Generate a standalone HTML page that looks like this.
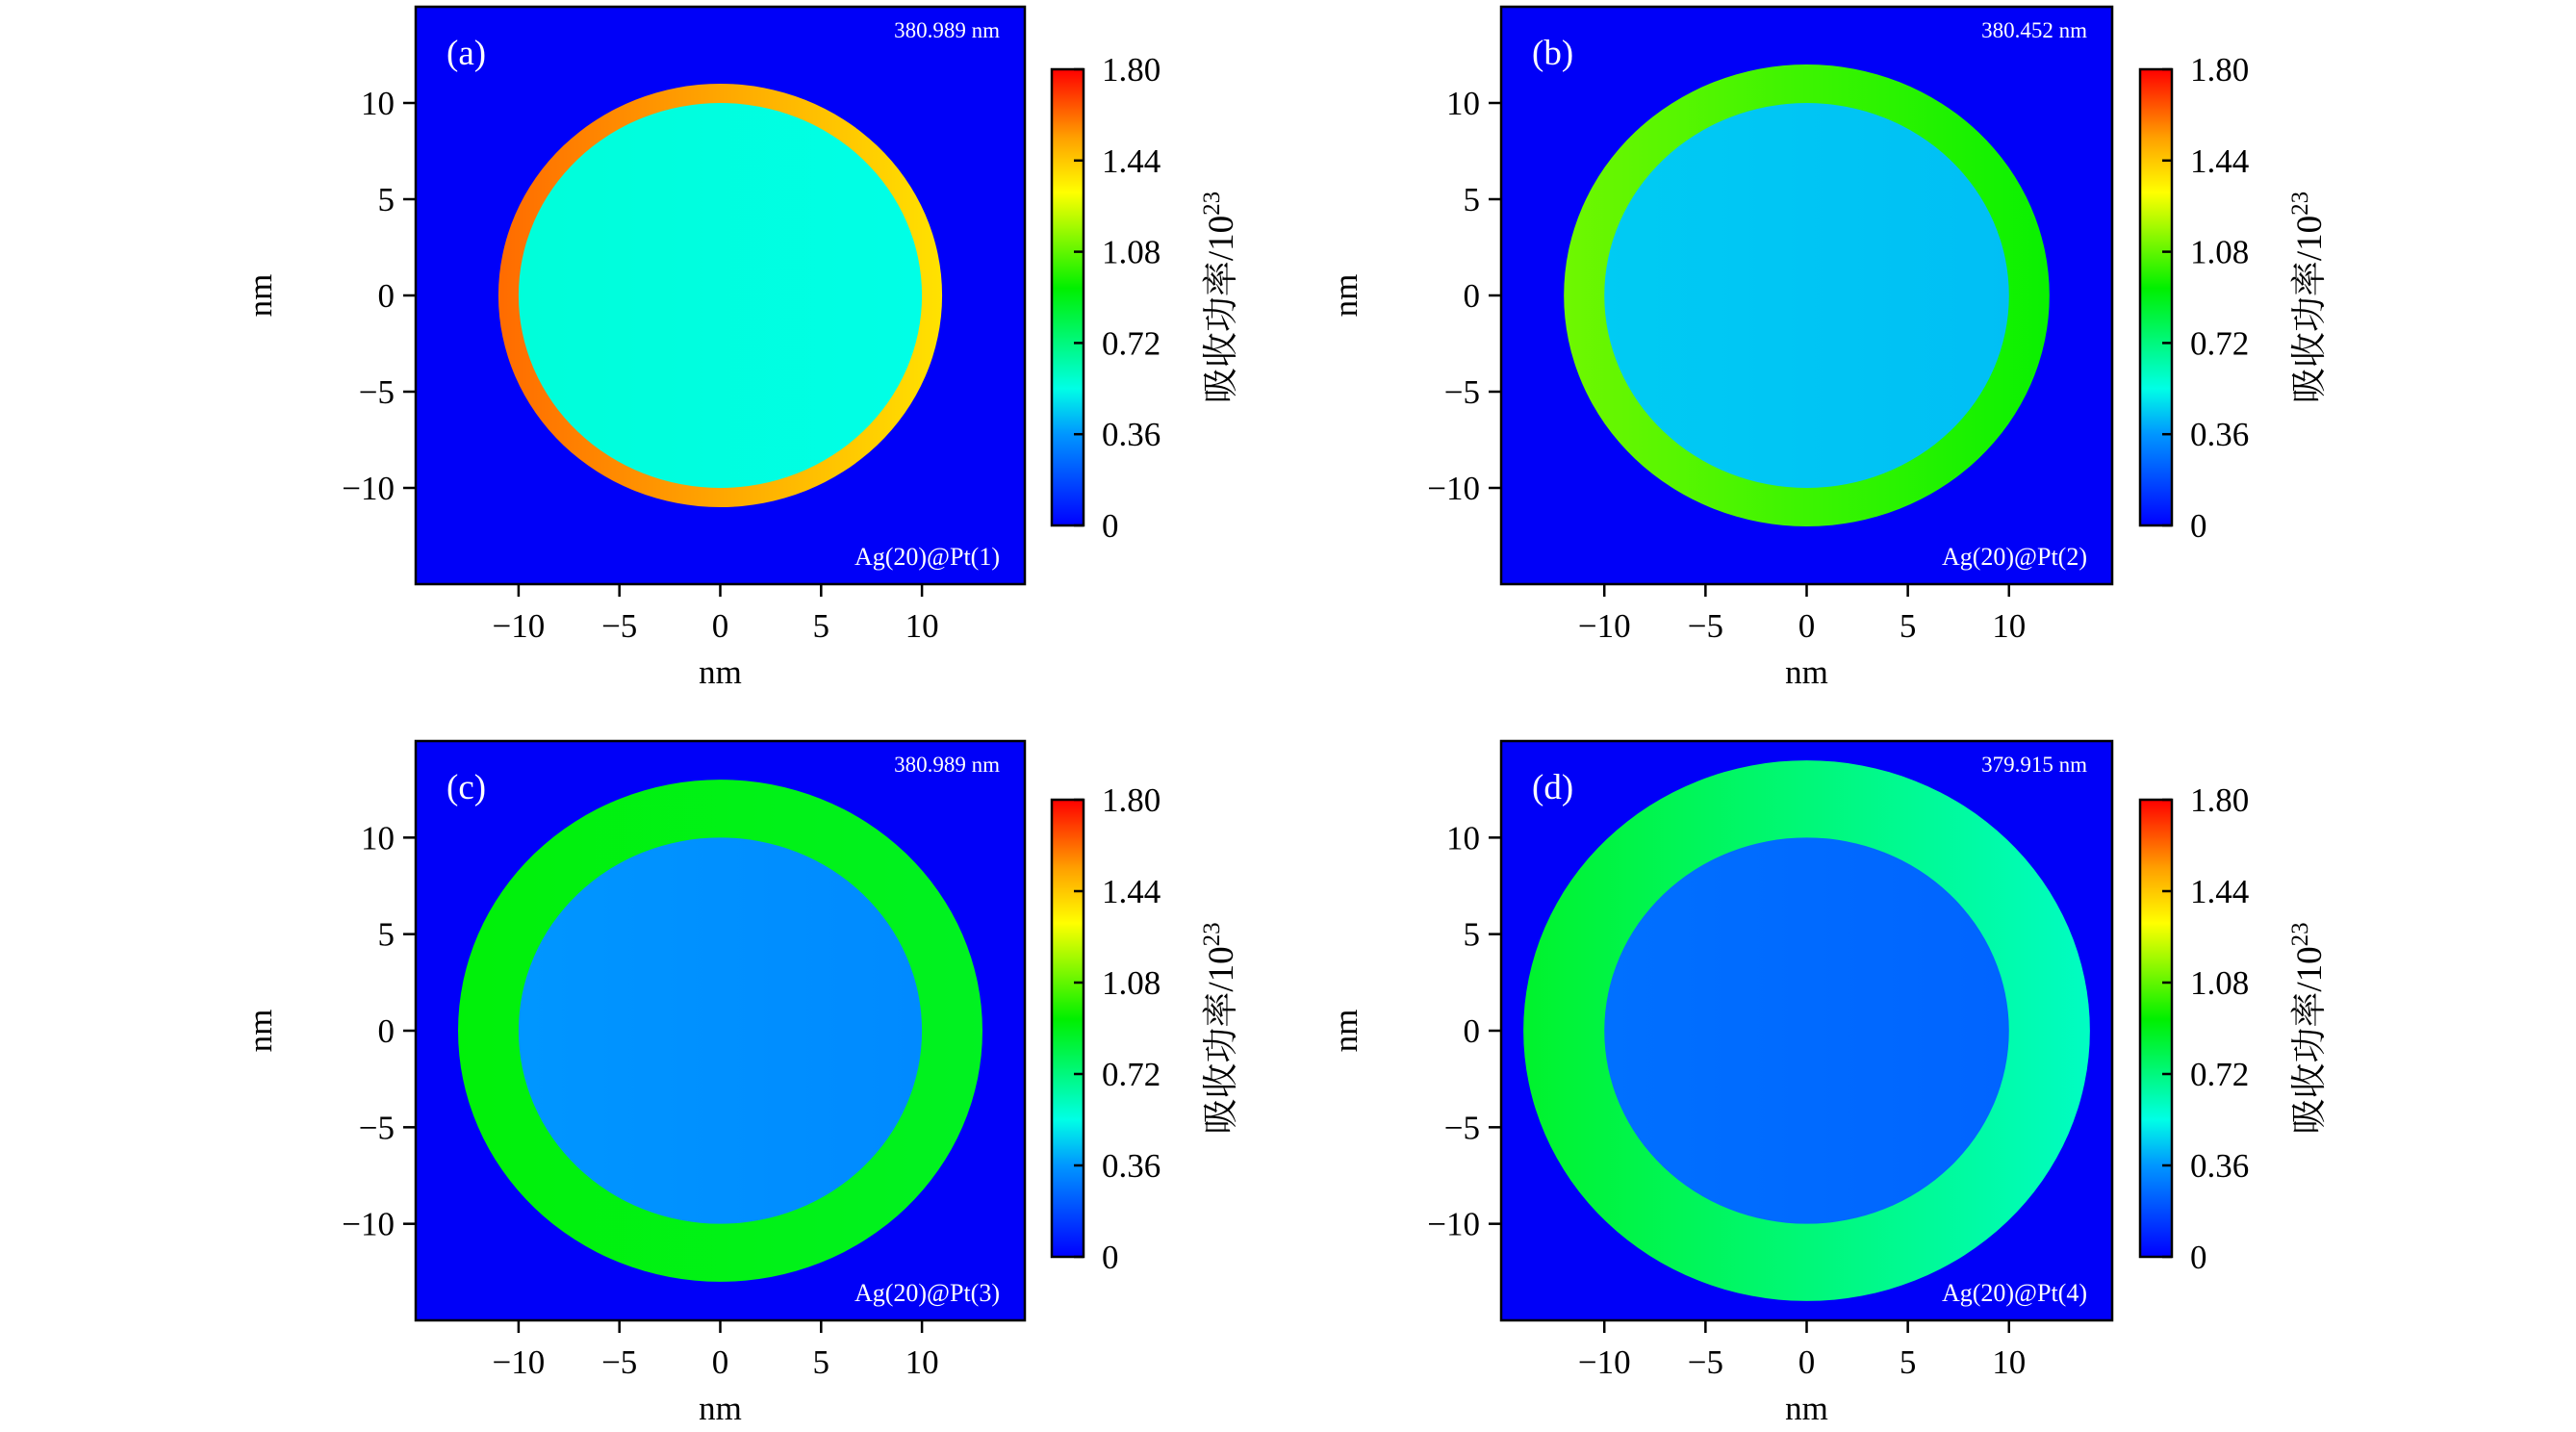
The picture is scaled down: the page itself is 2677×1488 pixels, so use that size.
<!DOCTYPE html>
<html><head><meta charset="utf-8">
<style>
html,body{margin:0;padding:0;background:#fff;}
svg{display:block;}
text{font-family:"Liberation Serif","Noto Serif CJK SC",serif;fill:#000;}
</style></head>
<body>
<svg id="fig" width="2677" height="1488" viewBox="0 0 2677 1488" xmlns="http://www.w3.org/2000/svg"></svg>
<script>
// ---- data ----
const panelLetters = ['(a)','(b)','(c)','(d)'];
const wavelengths = ['380.989 nm','380.452 nm','380.989 nm','379.915 nm'];
const structures = ['Ag(20)@Pt(1)','Ag(20)@Pt(2)','Ag(20)@Pt(3)','Ag(20)@Pt(4)'];
const outerRadii = [11, 12, 13, 14];
const innerRadii = [10, 10, 10, 10];
const shellLeft = [1.62, 1.1, 0.92, 0.86];
const shellRight = [1.38, 0.95, 0.88, 0.6];
const coreLeft = [0.56, 0.45, 0.36, 0.27];
const coreRight = [0.54, 0.43, 0.33, 0.24];
const axisTicks = [-10, -5, 0, 5, 10];
const cbarTicks = [0, 0.36, 0.72, 1.08, 1.44, 1.80];
const cbarLabels = ['0','0.36','0.72','1.08','1.44','1.80'];
const vmax = 1.8;

// ---- layout ----
const NS = 'http://www.w3.org/2000/svg';
const svg = document.getElementById('fig');
const layouts = [
  {L:432, R:1065, T:7, B:607, cbL:1093, cbR:1126, cbT:72, cbB:546},
  {L:1560, R:2195, T:7, B:607, cbL:2224, cbR:2257, cbT:72, cbB:546},
  {L:432, R:1065, T:770, B:1372, cbL:1093, cbR:1126, cbT:831, cbB:1306},
  {L:1560, R:2195, T:770, B:1372, cbL:2224, cbR:2257, cbT:831, cbB:1306}
];
const XMIN=-15.1, XMAX=15.1, YMIN=-15.0, YMAX=15.0;

const cmapStops = [[0,[0,0,255]],[0.2,[0,150,255]],[0.3,[0,255,230]],[0.52,[0,240,0]],[0.73,[255,255,0]],[0.85,[255,160,0]],[1,[255,0,0]]];
function cmap(v){
  let x = Math.max(0, Math.min(1, v / vmax));
  for (let i=1;i<cmapStops.length;i++){
    if (x <= cmapStops[i][0]){
      const [x0,c0]=cmapStops[i-1],[x1,c1]=cmapStops[i];
      const t=(x-x0)/(x1-x0);
      const c=c0.map((a,k)=>Math.round(a+(c1[k]-a)*t));
      return `rgb(${c[0]},${c[1]},${c[2]})`;
    }
  }
  return 'rgb(255,0,0)';
}
function el(tag, attrs, parent){
  const e=document.createElementNS(NS,tag);
  for(const k in attrs) e.setAttribute(k,attrs[k]);
  (parent||svg).appendChild(e);
  return e;
}
const defs = el('defs',{});

layouts.forEach((p,i)=>{
  const sx = v => p.L + (v - XMIN) / (XMAX - XMIN) * (p.R - p.L);
  const sy = v => p.B - (v - YMIN) / (YMAX - YMIN) * (p.B - p.T);
  const g = el('g',{});
  
  

  const bg = el('rect',{x:p.L,y:p.T,width:p.R-p.L,height:p.B-p.T,fill:'rgb(0,0,248)'},g);
  
  

  const gs = el('linearGradient',{id:'gs'+i,x1:'0',x2:'1',y1:'0',y2:'0'},defs);
  el('stop',{offset:'0',"stop-color":cmap(shellLeft[i])},gs);
  el('stop',{offset:'1',"stop-color":cmap(shellRight[i])},gs);
  const gc = el('linearGradient',{id:'gc'+i,x1:'0',x2:'1',y1:'0',y2:'0'},defs);
  el('stop',{offset:'0',"stop-color":cmap(coreLeft[i])},gc);
  el('stop',{offset:'1',"stop-color":cmap(coreRight[i])},gc);

  const shell = el('ellipse',{cx:sx(0),cy:sy(0),rx:sx(outerRadii[i])-sx(0),ry:sy(0)-sy(outerRadii[i]),fill:`url(#gs${i})`},g);
  
  
  const core = el('ellipse',{cx:sx(0),cy:sy(0),rx:sx(innerRadii[i])-sx(0),ry:sy(0)-sy(innerRadii[i]),fill:`url(#gc${i})`},g);
  
  

  const frame = el('rect',{x:p.L,y:p.T,width:p.R-p.L,height:p.B-p.T,fill:'none',stroke:'#000','stroke-width':2.5},g);
  
  

  axisTicks.forEach(t=>{
    el('line',{x1:sx(t),x2:sx(t),y1:p.B,y2:p.B+13,stroke:'#000','stroke-width':2.5},g);
    const xt = el('text',{x:sx(t),y:p.B+55,'font-size':35,'text-anchor':'middle'},g);
    xt.textContent = t<0 ? '\u2212'+Math.abs(t) : String(t);
    
    
    el('line',{x1:p.L-13,x2:p.L,y1:sy(t),y2:sy(t),stroke:'#000','stroke-width':2.5},g);
    const yt = el('text',{x:p.L-22,y:sy(t)+12,'font-size':35,'text-anchor':'end'},g);
    yt.textContent = t<0 ? '\u2212'+Math.abs(t) : String(t);
    
    
  });
  const xl = el('text',{x:(p.L+p.R)/2,y:p.B+103,'font-size':35,'text-anchor':'middle'},g);
  xl.textContent='nm';
  
  
  const yx = p.L-150, yy=(p.T+p.B)/2;
  const yl = el('text',{x:yx,y:yy,'font-size':35,'text-anchor':'middle',transform:`rotate(-90 ${yx} ${yy})`},g);
  yl.textContent='nm';
  
  

  const lt = el('text',{x:p.L+32,y:p.T+60,'font-size':37,style:'fill:#fff'},g);
  lt.textContent = panelLetters[i];
  
  
  const wl = el('text',{x:p.R-26,y:p.T+32,'font-size':23,'text-anchor':'end',style:'fill:#fff'},g);
  wl.textContent = wavelengths[i];
  
  
  const st = el('text',{x:p.R-26,y:p.B-20,'font-size':26,'text-anchor':'end',style:'fill:#fff'},g);
  st.textContent = structures[i];
  
  

  const cg = el('linearGradient',{id:'cb'+i,x1:'0',x2:'0',y1:'1',y2:'0'},defs);
  cmapStops.forEach(s=>el('stop',{offset:s[0],"stop-color":`rgb(${s[1].join(',')})`},cg));
  const cb = el('rect',{x:p.cbL,y:p.cbT,width:p.cbR-p.cbL,height:p.cbB-p.cbT,fill:`url(#cb${i})`,stroke:'#000','stroke-width':2.5},g);
  
  
  const cy = v => p.cbB - v / vmax * (p.cbB - p.cbT);
  cbarTicks.forEach((t,k)=>{
    el('line',{x1:p.cbR-10,x2:p.cbR,y1:cy(t),y2:cy(t),stroke:'#000','stroke-width':2.5},g);
    const ct = el('text',{x:p.cbR+19,y:cy(t)+12,'font-size':35},g);
    ct.textContent = cbarLabels[k];
    
    
  });
  const cx = p.cbR+155, cyc=(p.cbT+p.cbB)/2;
  const ctl = el('text',{x:cx,y:cyc,'font-size':37,'text-anchor':'middle',transform:`rotate(-90 ${cx} ${cyc})`},g);
  
  
  ctl.appendChild(document.createTextNode('吸收功率/10'));
  const sup = el('tspan',{'font-size':25,dy:-14},ctl);
  sup.textContent='23';
});
</script>
</body></html>
